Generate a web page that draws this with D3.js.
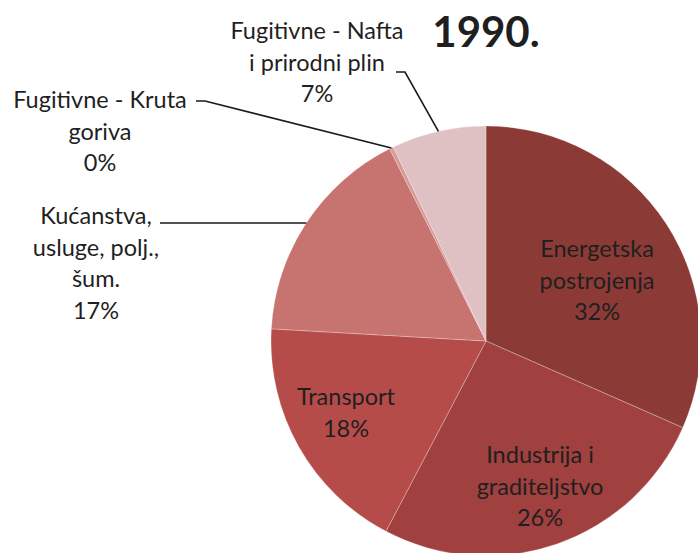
<!DOCTYPE html>
<html>
<head>
<meta charset="utf-8">
<script src="https://cdn.jsdelivr.net/npm/d3@7"></script>
<style>
  body { margin: 0; background: #fff; }
  svg text { font-family: Lato, "Open Sans", sans-serif; fill: #1f1f1f; }
</style>
</head>
<body>
<div id="chart-area"></div>
<script>
// data
var categories = ["Energetska postrojenja", "Industrija i graditeljstvo", "Transport",
    "Kućanstva, usluge, polj., šum.", "Fugitivne - Kruta goriva", "Fugitivne - Nafta i prirodni plin"]
var values = [31.6, 26.1, 18.2, 16.7, 0.3, 7.1]
var labelLines = [
    ["Energetska", "postrojenja"],
    ["Industrija i", "graditeljstvo"],
    ["Transport"],
    ["Kućanstva,", "usluge, polj.,", "šum."],
    ["Fugitivne - Kruta", "goriva"],
    ["Fugitivne - Nafta", "i prirodni plin"]
]
var colors = ["#8c3a36", "#a0403f", "#b64c4a", "#c7736f", "#d79a98", "#e0c1c3"]
var title = "1990."

// layout
var cw = 698, ch = 553
var cx = 486, cy = 341, r = 215
var lineH = 31.5
// label anchor (x, first baseline) and leader line points at the text side
var labelPos = [
    {x: 597, y: 257},
    {x: 540, y: 463},
    {x: 346, y: 405},
    {x: 96, y: 224, lead: [160, 223]},
    {x: 100, y: 108, lead: [196, 101, 205, 101]},
    {x: 317, y: 39, lead: [396, 72, 405, 72]}
]

var data = categories.map((c, i) => ({name: c, value: values[i], i: i}))

var svg = d3.select("#chart-area").append("svg")
    .attr("width", cw)
    .attr("height", ch)

var pie = d3.pie().sort(null).value(d => d.value)
var arc = d3.arc().innerRadius(0).outerRadius(r)
var arcs = pie(data)

var g = svg.append("g")
    .attr("transform", "translate(" + cx + ", " + cy + ")")

g.selectAll("path")
    .data(arcs).enter().append("path")
        .attr("d", arc)
        .attr("fill", d => colors[d.data.i])
        .attr("stroke", "rgba(255,255,255,0.25)")
        .attr("stroke-width", 1)

// leader lines
arcs.forEach(d => {
    var p = labelPos[d.data.i]
    if (!p.lead) return
    var a = (d.startAngle + d.endAngle) / 2
    var ex = r * Math.sin(a), ey = -r * Math.cos(a)
    var pts = []
    for (var k = 0; k < p.lead.length; k += 2) pts.push([p.lead[k] - cx, p.lead[k + 1] - cy])
    pts.push([ex, ey])
    g.append("path")
        .attr("d", d3.line()(pts))
        .attr("fill", "none")
        .attr("stroke", "#1a1a1a")
        .attr("stroke-width", 1.6)
})

// labels
arcs.forEach(d => {
    var p = labelPos[d.data.i]
    var lines = labelLines[d.data.i].concat([Math.round(d.data.value) + "%"])
    var t = svg.append("text")
        .attr("text-anchor", "middle")
        .attr("font-size", "23.5px")
    lines.forEach((l, k) => {
        t.append("tspan")
            .attr("x", p.x)
            .attr("y", p.y + k * lineH)
            .text(l)
    })
})

svg.append("text")
    .attr("x", 486)
    .attr("y", 47)
    .attr("text-anchor", "middle")
    .attr("font-size", "42px")
    .attr("font-weight", "bold")
    .text(title)
</script>
</body>
</html>
